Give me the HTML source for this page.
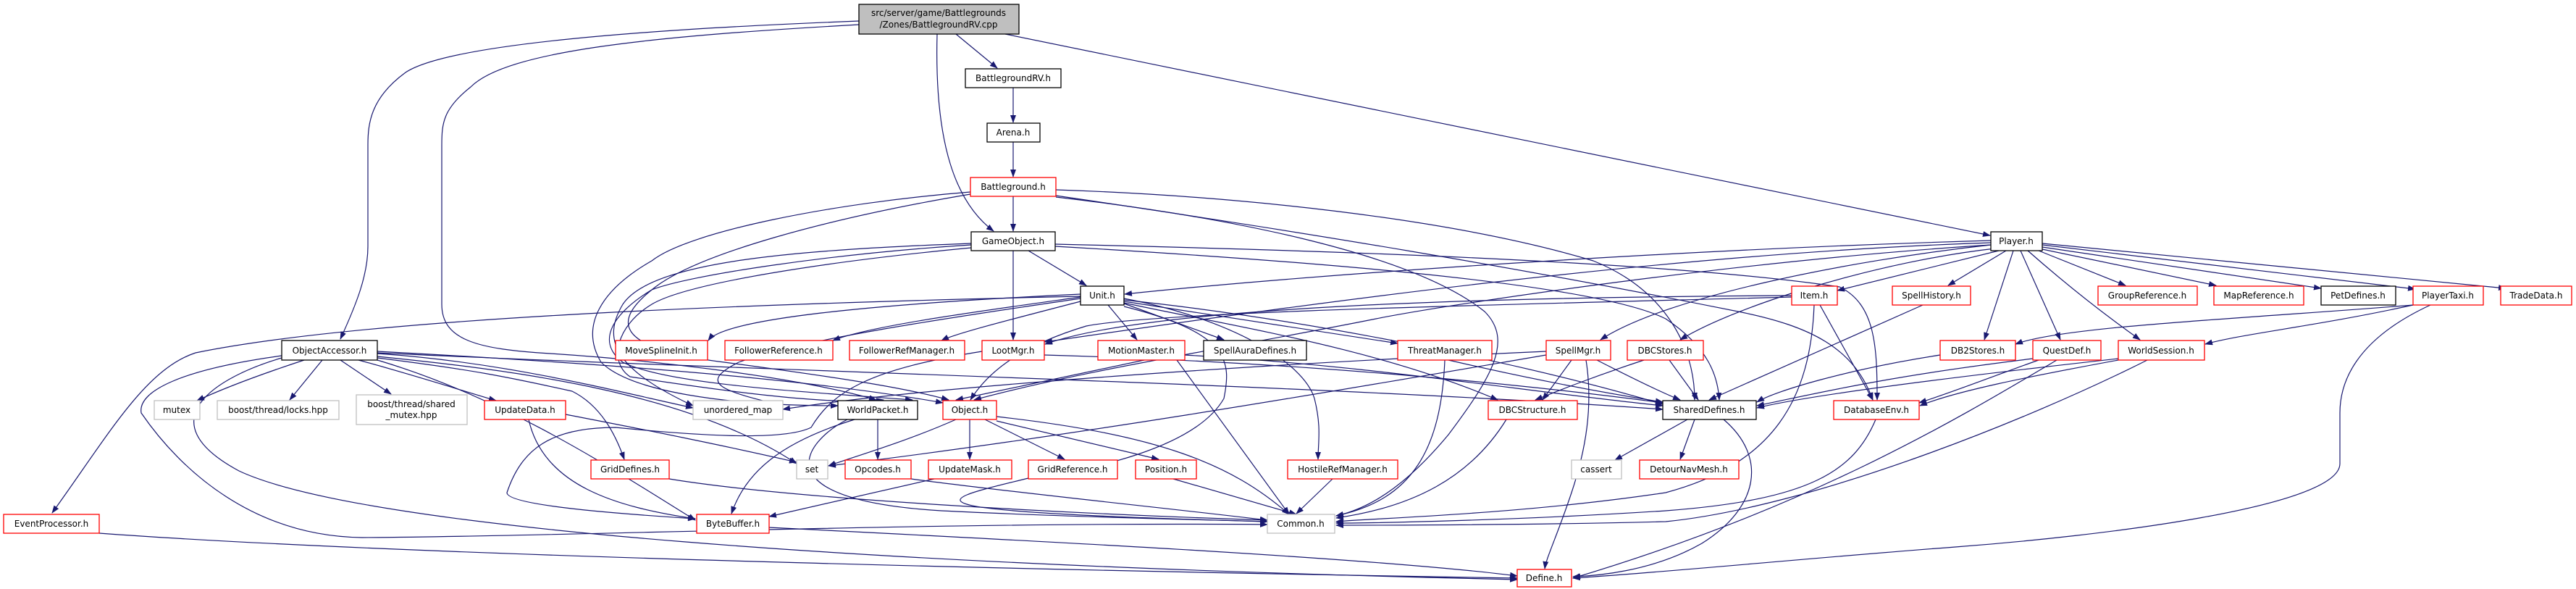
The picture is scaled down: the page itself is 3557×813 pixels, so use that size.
<!DOCTYPE html>
<html><head><meta charset="utf-8"><style>
html,body{margin:0;padding:0;background:#fff;}
svg{display:block;}
text{font-family:"DejaVu Sans","Liberation Sans",sans-serif;font-size:12px;fill:#000;}
.e{fill:none;stroke:#191970;stroke-width:1.2;}
.r{fill:#fff;stroke:#ff0000;stroke-width:1.3;}
.b{fill:#fff;stroke:#000;stroke-width:1.3;}
.g{fill:#fff;stroke:#bfbfbf;stroke-width:1.3;}
</style></head><body>
<svg width="3557" height="813" viewBox="0 0 3557 813" xmlns="http://www.w3.org/2000/svg">
<defs><marker id="a" markerWidth="11" markerHeight="8" refX="10" refY="4" orient="auto" markerUnits="userSpaceOnUse"><path d="M0,0 L11,4 L0,8 z" fill="#191970"/></marker></defs>
<g class="e" marker-end="url(#a)">
<!-- root -->
<path d="M1186,29 C900,40 620,60 560,100 C512,135 508,170 508,200 L508,340 C508,380 492,420 470,468"/>
<path d="M1186,34 C900,50 700,70 650,120 C612,150 610,170 610,200 L610,420 C610,470 660,482 760,488 C900,497 1100,520 1210,552"/>
<path d="M1294,47 C1290,200 1320,280 1372,319"/>
<path d="M1320,47 L1377,94"/>
<path d="M1388,47 L2748,325"/>
<path d="M1399,121 L1399,169"/>
<path d="M1399,196 L1399,244"/>
<path d="M1399,271 L1399,319"/>
<!-- Battleground -->
<path d="M1340,265 C1150,280 950,320 900,360 C830,400 800,450 830,500 C870,540 1000,560 1157,560"/>
<path d="M1340,268 C1150,300 960,350 900,400 C850,440 840,480 1000,500 C1150,520 1250,535 1310,552"/>
<path d="M1458,262 C1700,270 2000,300 2200,360 C2300,400 2340,480 2340,552"/>
<path d="M1458,270 C1800,320 2100,370 2400,430 C2500,450 2560,480 2586,552"/>
<path d="M1458,272 C1700,300 1950,350 2050,430 C2090,470 2060,520 2000,600 C1950,660 1900,700 1845,712"/>
<!-- GameObject -->
<path d="M1420,346 L1500,394"/>
<path d="M1399,346 L1399,469"/>
<path d="M1341,338 C1150,350 950,380 900,400 C850,430 820,470 860,500 C920,530 1100,540 1260,552"/>
<path d="M1341,342 C1150,360 950,390 900,420 C850,450 840,500 870,520 C1000,540 1150,560 1220,552"/>
<path d="M1341,336 C1100,345 900,360 860,420 C830,470 850,510 957,560"/>
<path d="M1457,337 C1800,345 2300,360 2540,396 C2590,420 2592,480 2592,552"/>
<path d="M1457,340 C1800,360 2200,390 2300,440 C2360,480 2372,520 2374,552"/>
<!-- Unit -->
<path d="M1492,406 C1200,420 1000,440 978,470"/>
<path d="M1492,410 C1350,430 1200,450 1150,470"/>
<path d="M1492,416 C1400,440 1320,460 1300,470"/>
<path d="M1530,421 L1570,469"/>
<path d="M1552,419 L1690,469"/>
<path d="M1552,416 L1930,474"/>
<path d="M1552,412 C1700,440 1800,500 1815,550 C1825,590 1820,610 1820,634"/>
<path d="M1552,418 C1700,450 1900,480 2068,552"/>
<path d="M1552,414 C1800,440 2100,500 2296,558"/>
<path d="M1492,409 C1000,420 500,440 270,487 C200,510 150,600 72,708"/>
<path d="M1492,412 C1300,440 1100,470 1020,500 C960,530 1000,540 1081,560"/>
<path d="M1552,423 C1700,460 1700,500 1690,550 C1650,620 1500,650 1420,660 C1300,690 1200,705 1750,720"/>
<!-- Player -->
<path d="M2749,332 C2300,345 1800,380 1553,406"/>
<path d="M2749,335 C2300,350 1800,420 1443,472"/>
<path d="M2749,338 C2400,360 2000,420 1900,440 C1700,480 1500,510 1345,552"/>
<path d="M2749,338 C2550,360 2300,410 2210,469"/>
<path d="M2755,343 C2600,360 2400,420 2320,469"/>
<path d="M2760,346 L2537,401"/>
<path d="M2770,346 L2690,394"/>
<path d="M2780,346 L2740,469"/>
<path d="M2790,346 L2845,469"/>
<path d="M2800,346 C2850,390 2900,430 2955,469"/>
<path d="M2815,346 L2935,394"/>
<path d="M2820,344 L3060,394"/>
<path d="M2820,341 L3205,398"/>
<path d="M2820,338 L3335,399"/>
<path d="M2820,336 L3460,398"/>
<!-- Item -->
<path d="M2513,421 L2586,552"/>
<path d="M2505,421 C2500,550 2450,640 2300,680 C2100,710 1900,715 1845,720"/>
<path d="M2474,408 C2100,410 1600,420 1443,475"/>
<path d="M2474,410 C2100,420 1600,430 1500,450 C1400,480 1360,520 1340,552"/>
<path d="M2655,421 L2360,552"/>
<!-- PlayerTaxi -->
<path d="M3332,421 C3100,440 2850,450 2783,475"/>
<path d="M3332,421 C3200,450 3100,460 3045,475"/>
<path d="M3356,421 C3250,470 3231,530 3231,570 L3231,640 C3231,700 2900,740 2700,755 C2500,770 2300,790 2172,798"/>
<!-- lower rows -->
<path d="M2679,490 C2550,510 2450,540 2426,555"/>
<path d="M2807,495 C2600,520 2500,545 2426,560"/>
<path d="M2815,497 C2750,520 2700,540 2650,556"/>
<path d="M2840,497 C2700,580 2500,700 2172,798"/>
<path d="M2925,495 C2700,520 2500,545 2426,563"/>
<path d="M2925,497 C2800,520 2700,540 2651,560"/>
<path d="M2965,497 C2800,580 2500,700 2300,720 C2100,725 1900,725 1845,725"/>
<path d="M2135,485 C1800,500 1300,530 1081,565"/>
<path d="M2135,490 C1900,530 1500,600 1144,643"/>
<path d="M2170,497 L2130,552"/>
<path d="M2205,497 C2250,520 2290,540 2320,552"/>
<path d="M2190,497 C2200,560 2190,620 2170,680 C2150,740 2135,770 2133,785"/>
<path d="M2270,497 C2200,520 2150,540 2120,552"/>
<path d="M2305,497 L2345,552"/>
<path d="M2000,497 C2100,520 2200,540 2296,555"/>
<path d="M1995,497 C1990,620 1950,690 1845,712"/>
<path d="M2080,579 C2030,660 1950,700 1845,715"/>
<path d="M2330,579 L2230,635"/>
<path d="M2340,579 L2320,634"/>
<path d="M2380,579 C2440,630 2430,700 2350,750 C2280,790 2200,795 2172,796"/>
<path d="M2590,579 C2560,650 2500,690 2300,705 C2100,718 1900,722 1845,722"/>
<path d="M1840,661 L1790,709"/>
<path d="M1580,497 L1320,552"/>
<path d="M1625,497 L1780,710"/>
<path d="M1636,490 C1900,505 2100,540 2296,560"/>
<path d="M1442,490 C1800,500 2100,530 2296,556"/>
<path d="M1356,485 C1200,510 1150,540 1120,590 C1080,610 950,600 850,590 C760,590 720,620 700,680 C700,700 900,712 960,716"/>
<path d="M1320,579 C1250,610 1180,630 1144,643"/>
<path d="M1339,579 L1339,634"/>
<path d="M1360,579 L1470,634"/>
<path d="M1376,581 L1600,634"/>
<path d="M1376,575 C1600,600 1700,640 1780,710"/>
<path d="M1212,579 L1212,634"/>
<path d="M1180,579 C1080,610 1030,650 1010,709"/>
<path d="M1170,579 C1110,610 1050,690 1300,705 C1500,715 1700,718 1750,720"/>
<path d="M1258,661 C1400,680 1600,700 1750,718"/>
<path d="M1290,661 L1062,713"/>
<path d="M1620,661 L1790,710"/>
<path d="M924,661 C1100,690 1500,710 1750,718"/>
<path d="M1062,728 C1400,745 1900,770 2095,795"/>
<path d="M137,736 C600,770 1600,790 2095,798"/>
<!-- ObjectAccessor -->
<path d="M420,497 C350,520 300,540 272,553"/>
<path d="M445,497 L400,552"/>
<path d="M470,497 L540,544"/>
<path d="M495,497 C580,520 640,540 685,553"/>
<path d="M521,494 C650,510 700,520 790,540 C830,560 850,600 862,634"/>
<path d="M521,492 C700,510 950,540 1100,640"/>
<path d="M521,488 C700,500 850,540 957,563"/>
<path d="M521,485 C800,500 1100,520 1302,556"/>
<path d="M521,487 C1000,510 1800,530 2296,565"/>
<path d="M389,491 C250,510 190,540 195,570 C250,650 350,740 500,742 C800,740 1300,720 1750,724"/>
<path d="M389,494 C300,520 200,580 330,650 C500,730 1200,780 2095,800"/>
<path d="M521,497 C700,550 850,650 960,718"/>
<path d="M781,572 C900,595 1000,615 1100,638"/>
<path d="M730,579 C750,670 850,700 960,716"/>
</g>
<!-- nodes -->
<g>
<rect x="1186" y="6" width="221" height="41" fill="#bfbfbf" stroke="#000" stroke-width="1.3"/>
<text x="1296" y="22" text-anchor="middle">src/server/game/Battlegrounds</text>
<text x="1296" y="38" text-anchor="middle">/Zones/BattlegroundRV.cpp</text>

<rect class="b" x="1333" y="95" width="132" height="26"/><text x="1399" y="112" text-anchor="middle">BattlegroundRV.h</text>
<rect class="b" x="1363" y="170" width="73" height="26"/><text x="1399" y="187" text-anchor="middle">Arena.h</text>
<rect class="r" x="1340" y="245" width="118" height="26"/><text x="1399" y="262" text-anchor="middle">Battleground.h</text>
<rect class="b" x="1341" y="320" width="116" height="26"/><text x="1399" y="337" text-anchor="middle">GameObject.h</text>
<rect class="b" x="2749" y="320" width="71" height="26"/><text x="2784" y="337" text-anchor="middle">Player.h</text>

<rect class="b" x="1492" y="395" width="60" height="26"/><text x="1522" y="412" text-anchor="middle">Unit.h</text>
<rect class="r" x="2474" y="395" width="63" height="26"/><text x="2505" y="412" text-anchor="middle">Item.h</text>
<rect class="r" x="2613" y="395" width="108" height="26"/><text x="2667" y="412" text-anchor="middle">SpellHistory.h</text>
<rect class="r" x="2897" y="395" width="137" height="26"/><text x="2965" y="412" text-anchor="middle">GroupReference.h</text>
<rect class="r" x="3057" y="395" width="124" height="26"/><text x="3119" y="412" text-anchor="middle">MapReference.h</text>
<rect class="b" x="3205" y="395" width="103" height="26"/><text x="3256" y="412" text-anchor="middle">PetDefines.h</text>
<rect class="r" x="3332" y="395" width="97" height="26"/><text x="3380" y="412" text-anchor="middle">PlayerTaxi.h</text>
<rect class="r" x="3453" y="395" width="98" height="26"/><text x="3502" y="412" text-anchor="middle">TradeData.h</text>

<rect class="b" x="389" y="470" width="132" height="27"/><text x="455" y="488" text-anchor="middle">ObjectAccessor.h</text>
<rect class="r" x="850" y="470" width="127" height="27"/><text x="913" y="488" text-anchor="middle">MoveSplineInit.h</text>
<rect class="r" x="1001" y="470" width="149" height="27"/><text x="1075" y="488" text-anchor="middle">FollowerReference.h</text>
<rect class="r" x="1173" y="470" width="159" height="27"/><text x="1252" y="488" text-anchor="middle">FollowerRefManager.h</text>
<rect class="r" x="1356" y="470" width="86" height="27"/><text x="1399" y="488" text-anchor="middle">LootMgr.h</text>
<rect class="r" x="1516" y="470" width="120" height="27"/><text x="1576" y="488" text-anchor="middle">MotionMaster.h</text>
<rect class="b" x="1662" y="470" width="142" height="27"/><text x="1733" y="488" text-anchor="middle">SpellAuraDefines.h</text>
<rect class="r" x="1930" y="470" width="130" height="27"/><text x="1995" y="488" text-anchor="middle">ThreatManager.h</text>
<rect class="r" x="2135" y="470" width="89" height="27"/><text x="2179" y="488" text-anchor="middle">SpellMgr.h</text>
<rect class="r" x="2247" y="470" width="105" height="27"/><text x="2299" y="488" text-anchor="middle">DBCStores.h</text>
<rect class="r" x="2679" y="470" width="104" height="27"/><text x="2731" y="488" text-anchor="middle">DB2Stores.h</text>
<rect class="r" x="2807" y="470" width="94" height="27"/><text x="2854" y="488" text-anchor="middle">QuestDef.h</text>
<rect class="r" x="2925" y="470" width="119" height="27"/><text x="2984" y="488" text-anchor="middle">WorldSession.h</text>

<rect class="g" x="213" y="553" width="63" height="26"/><text x="244" y="570" text-anchor="middle">mutex</text>
<rect class="g" x="300" y="553" width="168" height="26"/><text x="384" y="570" text-anchor="middle">boost/thread/locks.hpp</text>
<rect class="g" x="492" y="545" width="153" height="41"/><text x="568" y="562" text-anchor="middle">boost/thread/shared</text><text x="568" y="577" text-anchor="middle">_mutex.hpp</text>
<rect class="r" x="669" y="553" width="112" height="26"/><text x="725" y="570" text-anchor="middle">UpdateData.h</text>
<rect class="g" x="957" y="553" width="124" height="26"/><text x="1019" y="570" text-anchor="middle">unordered_map</text>
<rect class="b" x="1157" y="553" width="110" height="26"/><text x="1212" y="570" text-anchor="middle">WorldPacket.h</text>
<rect class="r" x="1302" y="553" width="74" height="26"/><text x="1339" y="570" text-anchor="middle">Object.h</text>
<rect class="r" x="2055" y="553" width="123" height="26"/><text x="2116" y="570" text-anchor="middle">DBCStructure.h</text>
<rect class="b" x="2296" y="553" width="129" height="26"/><text x="2360" y="570" text-anchor="middle">SharedDefines.h</text>
<rect class="r" x="2532" y="553" width="118" height="26"/><text x="2591" y="570" text-anchor="middle">DatabaseEnv.h</text>

<rect class="r" x="816" y="635" width="108" height="26"/><text x="870" y="652" text-anchor="middle">GridDefines.h</text>
<rect class="g" x="1100" y="635" width="43" height="26"/><text x="1121" y="652" text-anchor="middle">set</text>
<rect class="r" x="1167" y="635" width="91" height="26"/><text x="1212" y="652" text-anchor="middle">Opcodes.h</text>
<rect class="r" x="1282" y="635" width="115" height="26"/><text x="1339" y="652" text-anchor="middle">UpdateMask.h</text>
<rect class="r" x="1420" y="635" width="123" height="26"/><text x="1481" y="652" text-anchor="middle">GridReference.h</text>
<rect class="r" x="1568" y="635" width="84" height="26"/><text x="1610" y="652" text-anchor="middle">Position.h</text>
<rect class="r" x="1778" y="635" width="152" height="26"/><text x="1854" y="652" text-anchor="middle">HostileRefManager.h</text>
<rect class="g" x="2170" y="635" width="69" height="26"/><text x="2204" y="652" text-anchor="middle">cassert</text>
<rect class="r" x="2264" y="635" width="137" height="26"/><text x="2332" y="652" text-anchor="middle">DetourNavMesh.h</text>

<rect class="r" x="5" y="710" width="132" height="26"/><text x="71" y="727" text-anchor="middle">EventProcessor.h</text>
<rect class="r" x="962" y="710" width="100" height="26"/><text x="1012" y="727" text-anchor="middle">ByteBuffer.h</text>
<rect class="g" x="1750" y="710" width="93" height="26"/><text x="1796" y="727" text-anchor="middle">Common.h</text>
<rect class="r" x="2095" y="786" width="75" height="24"/><text x="2132" y="802" text-anchor="middle">Define.h</text>
</g>
</svg>
</body></html>
